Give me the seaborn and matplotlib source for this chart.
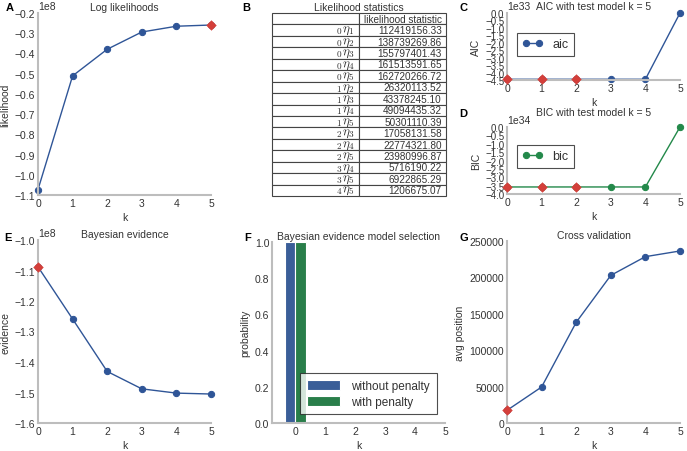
import numpy as np
import pandas as pd
import matplotlib
matplotlib.use("Agg")
import matplotlib.pyplot as plt
import seaborn as sns

# ---------------- data ----------------
k = [0, 1, 2, 3, 4, 5]
log_likelihood = [-107300000, -51090422, -37930365, -29401299, -26543204, -25939867]
best_likelihood = [5]

table_labels = [r"${}_0\eta_1$", r"${}_0\eta_2$", r"${}_0\eta_3$", r"${}_0\eta_4$", r"${}_0\eta_5$",
                r"${}_1\eta_2$", r"${}_1\eta_3$", r"${}_1\eta_4$", r"${}_1\eta_5$",
                r"${}_2\eta_3$", r"${}_2\eta_4$", r"${}_2\eta_5$",
                r"${}_3\eta_4$", r"${}_3\eta_5$", r"${}_4\eta_5$"]
table_values = ["112419156.33", "138739269.86", "155797401.43", "161513591.65", "162720266.72",
                "26320113.52", "43378245.10", "49094435.32", "50301110.39",
                "17058131.58", "22774321.80", "23980996.87",
                "5716190.22", "6922865.29", "1206675.07"]
table_header = ["", "likelihood statistic"]

aic = [-4.45e33, -4.45e33, -4.45e33, -4.45e33, -4.45e33, 0.0]
aic_selected = [0, 1, 2]
bic = [-3.58e34, -3.58e34, -3.58e34, -3.58e34, -3.58e34, 0.0]
bic_selected = [0, 1, 2]

evidence = [-108800000, -125900000, -143100000, -148800000, -150200000, -150500000]
best_evidence = [0]

prob_without_penalty = [1.0, 0.0, 0.0, 0.0, 0.0, 0.0]
prob_with_penalty = [1.0, 0.0, 0.0, 0.0, 0.0, 0.0]
penalty_labels = ["without penalty", "with penalty"]

cross_validation = [17400, 49450, 138300, 202800, 228500, 236300]
best_cv = [0]

# ---------------- style ----------------
sns.set_style("white")
plt.rcParams["font.family"] = ["Liberation Sans", "DejaVu Sans"]
plt.rcParams["mathtext.fontset"] = "cm"
plt.rcParams["axes.edgecolor"] = "#bdbdbd"
plt.rcParams["axes.linewidth"] = 1.5
plt.rcParams["text.color"] = "#333333"
plt.rcParams["axes.labelcolor"] = "#333333"
plt.rcParams["xtick.color"] = "#333333"
plt.rcParams["ytick.color"] = "#333333"

FS = 7.5
BLUE = "#2f5597"
GREEN = "#23894a"
RED = "#d43f3a"
BARBLUE = "#2a5aa8"
BARGREEN = "#1b8c47"

W, H = 687, 452
fig = plt.figure(figsize=(W / 100, H / 100), dpi=100)


def rect(l, t, r, b):
    return [l / W, 1 - b / H, (r - l) / W, (b - t) / H]


def style(ax, title, xlabel, ylabel, pad=2, ysize=FS):
    sns.despine(ax=ax)
    ax.set_title(title, fontsize=FS, pad=pad)
    ax.set_xlabel(xlabel, fontsize=FS, labelpad=3)
    ax.set_ylabel(ylabel, fontsize=FS, labelpad=3)
    ax.tick_params(labelsize=FS, length=0, pad=2)
    ax.tick_params(axis="y", labelsize=ysize)
    ax.yaxis.get_offset_text().set_fontsize(FS)


def line_panel(ax, y, best, color, label=None):
    sns.lineplot(x=k, y=y, ax=ax, color=color, lw=1, marker="o", markersize=4.5,
                 markeredgecolor=color, label=label, zorder=2)
    for line in ax.lines:
        line.set_clip_on(False)
    sns.scatterplot(x=[k[i] for i in best], y=[y[i] for i in best], ax=ax, marker="D",
                    color=RED, s=24, edgecolor=RED, zorder=3, clip_on=False)
    ax.set_xlim(0, 5)
    ax.set_xticks(k)


def boxed_legend(ax, **kw):
    leg = ax.legend(frameon=True, fancybox=False, **kw)
    leg.get_frame().set_edgecolor("#222222")
    leg.get_frame().set_linewidth(0.8)
    return leg


# A
axA = fig.add_axes(rect(38, 14, 211, 196))
line_panel(axA, log_likelihood, best_likelihood, BLUE)
axA.set_ylim(-1.1e8, -0.2e8)
axA.set_yticks(np.arange(-1.1e8, -0.19e8, 0.1e8))
style(axA, "Log likelihoods", "k", "likelihood")

# B table
axB = fig.add_axes(rect(272, 14, 446, 197))
axB.axis("off")
cell_text = [[lab, val] for lab, val in zip(table_labels, table_values)]
tab = axB.table(cellText=cell_text, colLabels=table_header, cellLoc="right",
                bbox=[0, 0, 1, 1])
tab.auto_set_font_size(False)
tab.set_fontsize(7.2)
for (r, c), cell in tab.get_celld().items():
    cell.set_edgecolor("#444444")
    cell.set_linewidth(0.8)
    cell.PAD = 0.05
    if c == 0 and r > 0:
        cell.get_text().set_fontsize(9.5)
axB.set_title("Likelihood statistics", fontsize=FS, pad=2)

# C
axC = fig.add_axes(rect(507, 14, 680, 81))
line_panel(axC, aic, aic_selected, BLUE, label="aic")
axC.set_ylim(-4.5e33, 0)
axC.set_yticks(np.arange(-4.5e33, 0.1e33, 0.5e33))
style(axC, "AIC with test model k = 5", "k", "AIC", pad=3, ysize=7)
boxed_legend(axC, loc="center left", bbox_to_anchor=(0.02, 0.53), fontsize=9, numpoints=2,
             handlelength=1.6, handletextpad=0.8, borderpad=0.45)

# D
axD = fig.add_axes(rect(507, 128, 680, 195))
line_panel(axD, bic, bic_selected, GREEN, label="bic")
axD.set_ylim(-4.0e34, 0)
axD.set_yticks(np.arange(-4.0e34, 0.1e34, 0.5e34))
style(axD, "BIC with test model k = 5", "k", "BIC", pad=9, ysize=7)
boxed_legend(axD, loc="center left", bbox_to_anchor=(0.02, 0.56), fontsize=9, numpoints=2,
             handlelength=1.6, handletextpad=0.8, borderpad=0.45)

# E
axE = fig.add_axes(rect(38, 241, 211, 424))
line_panel(axE, evidence, best_evidence, BLUE)
axE.set_ylim(-1.6e8, -1.0e8)
axE.set_yticks(np.arange(-1.6e8, -0.99e8, 0.1e8))
style(axE, "Bayesian evidence", "k", "evidence")

# F
axF = fig.add_axes(rect(272, 243, 445, 424))
dfF = pd.DataFrame({
    "k": k + k,
    "probability": prob_without_penalty + prob_with_penalty,
    "method": [penalty_labels[0]] * len(k) + [penalty_labels[1]] * len(k),
})
sns.barplot(data=dfF, x="k", y="probability", hue="method", native_scale=True,
            palette=[BARBLUE, BARGREEN], width=0.7, edgecolor="white", linewidth=0.8,
            ax=axF, legend=True)
axF.set_xlim(-0.77, 5)
axF.set_ylim(0, 1)
axF.set_xticks(k)
style(axF, "Bayesian evidence model selection", "k", "probability")
boxed_legend(axF, loc="lower right", bbox_to_anchor=(0.985, 0.015), fontsize=8.5,
             handlelength=2.8, handleheight=0.9, handletextpad=1.0, borderpad=0.55,
             labelspacing=0.35)

# G
axG = fig.add_axes(rect(507, 242, 680, 424))
line_panel(axG, cross_validation, best_cv, BLUE)
axG.set_ylim(0, 250000)
axG.set_yticks([0, 50000, 100000, 150000, 200000, 250000])
axG.ticklabel_format(axis="y", style="plain")
style(axG, "Cross validation", "k", "avg position")

# panel letters
for letter, x, y in [("A", 10, 8), ("B", 246, 8), ("C", 463, 8), ("D", 463, 114),
                     ("E", 8, 238), ("F", 248, 238), ("G", 464, 238)]:
    fig.text(x / W, 1 - y / H, letter, fontsize=FS + 0.5, fontweight="bold",
             ha="center", va="center", color="black")

fig.savefig("out.png", dpi=100)
